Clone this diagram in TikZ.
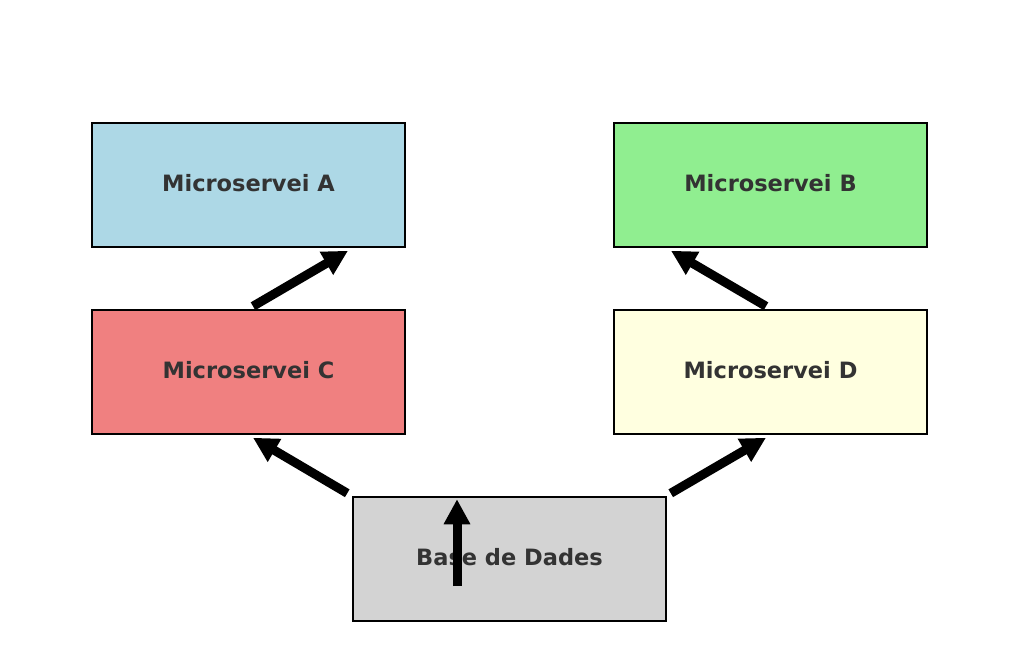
\documentclass[tikz,border=0pt]{standalone}
\usepackage{fontspec}
\setmainfont{DejaVu Sans}
\usetikzlibrary{arrows.meta}
\definecolor{txtgray}{HTML}{333333}
\definecolor{boxA}{HTML}{ADD8E6}
\definecolor{boxB}{HTML}{90EE90}
\definecolor{boxC}{HTML}{F08080}
\definecolor{boxD}{HTML}{FFFFE0}
\definecolor{boxE}{HTML}{D3D3D3}
\begin{document}
\begin{tikzpicture}[x=1pt,y=-1pt,
  svcbox/.style={draw=black,line width=1.5pt,minimum width=313pt,minimum height=124pt,
    inner sep=0pt},
  svctext/.style={text=txtgray,font=\fontsize{22.5}{27}\selectfont\bfseries,inner sep=0pt},
  bigarrow/.style={draw=black,line width=9pt,line cap=butt,
    -{Triangle[width=25pt,length=25pt]}}]
\useasboundingbox (0,0) rectangle (1014,660);
\fill[white] (0,0) rectangle (1014,660);
\node[svcbox,fill=boxA] (A) at (248.5,185) {};
\node[svcbox,fill=boxB] (B) at (770.5,185) {};
\node[svcbox,fill=boxC] (C) at (248.5,372) {};
\node[svcbox,fill=boxD] (D) at (770.5,372) {};
\node[svcbox,fill=boxE] (E) at (509.5,559) {};
\node[svctext] (tA) at ([yshift=2pt]A.center) {Microservei A};
\node[svctext] (tB) at ([yshift=2pt]B.center) {Microservei B};
\node[svctext] (tC) at ([yshift=2pt]C.center) {Microservei C};
\node[svctext] (tD) at ([yshift=2pt]D.center) {Microservei D};
\node[svctext] (tE) at ([yshift=2pt]E.center) {Base de Dades};
\draw[bigarrow] ([shift={(4.5,-3)}]C.north) -- ([shift={(99.5,3)}]A.south);
\draw[bigarrow] ([shift={(-4.5,-3)}]D.north) -- ([shift={(-99.5,3)}]B.south);
\draw[bigarrow] ([shift={(-5,-3)}]E.north west) -- ([shift={(4.5,3)}]C.south);
\draw[bigarrow] ([shift={(4,-3)}]E.north east) -- ([shift={(-4.5,3)}]D.south);
\draw[bigarrow] ([shift={(-52.5,27)}]E.center) -- ([shift={(-52.5,3)}]E.north);
\end{tikzpicture}
\end{document}
